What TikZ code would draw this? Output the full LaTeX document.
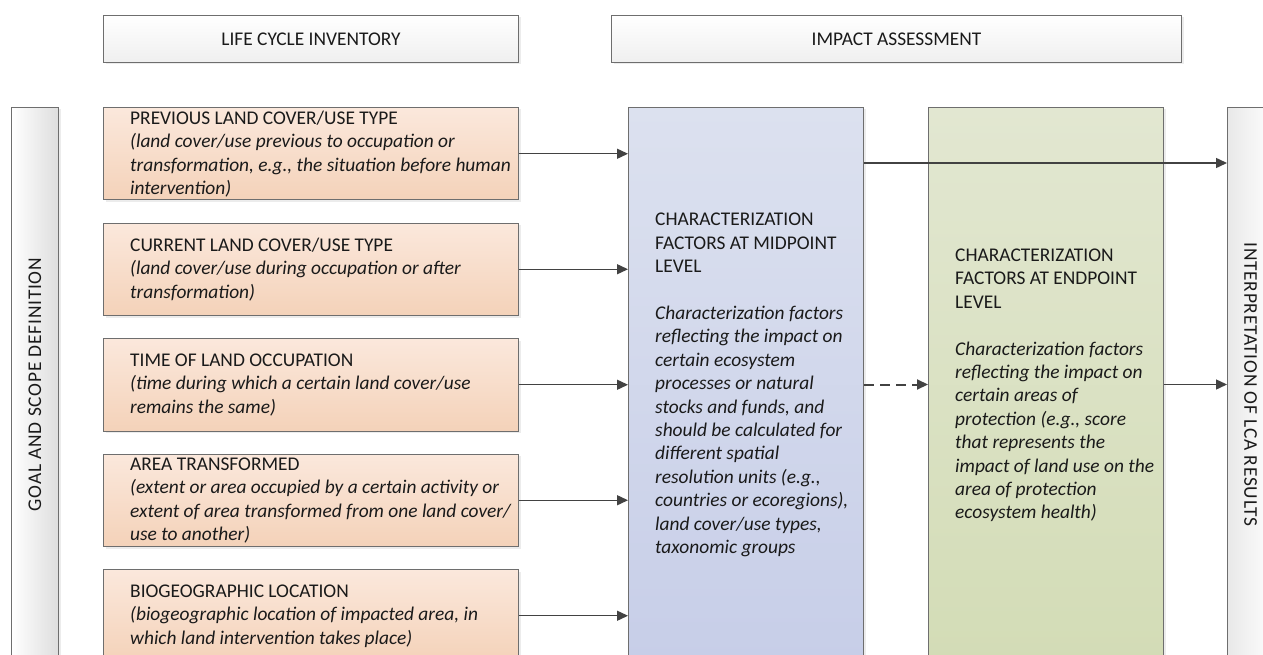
\documentclass[tikz,border=0pt]{standalone}
\usepackage{fontspec}
\setmainfont{Carlito}
\usetikzlibrary{arrows.meta,shadows}
\definecolor{bordc}{HTML}{6E6E6E}
\definecolor{arrc}{HTML}{424242}
\definecolor{txt}{HTML}{1A1A1A}
\definecolor{orT}{HTML}{FBE8DC}
\definecolor{orB}{HTML}{F4D2B9}
\definecolor{blT}{HTML}{DCE1EF}
\definecolor{blB}{HTML}{C7CEE8}
\definecolor{grT}{HTML}{E2E7D1}
\definecolor{grB}{HTML}{D3DCB6}
\definecolor{hdB}{HTML}{EFEFEF}
\begin{document}
\begin{tikzpicture}[x=1pt,y=-1pt,
  every node/.style={font=\fontsize{19.4pt}{23.4pt}\selectfont, text=txt},
  boxbase/.style={draw=bordc, line width=1pt, inner sep=0pt, anchor=north west,
     drop shadow={opacity=0.15, shadow xshift=2pt, shadow yshift=-2pt}},
  headbox/.style={boxbase, top color=white, bottom color=hdB, minimum height=47pt, anchor=north west},
  orbox/.style={boxbase, top color=orT, bottom color=orB, minimum width=415pt, minimum height=92.5pt},
  blbox/.style={boxbase, top color=blT, bottom color=blB, minimum width=235pt, minimum height=554pt},
  grbox/.style={boxbase, top color=grT, bottom color=grB, minimum width=235pt, minimum height=554pt},
  sidebox/.style={boxbase, minimum width=47pt, minimum height=554pt},
  lbl/.style={anchor=west, align=left, inner sep=0pt},
  arr/.style={draw=arrc, line width=1.4pt, -{Triangle[length=11pt,width=10pt]}},
  darr/.style={arr, line width=2pt, dash pattern=on 10pt off 6pt}
]
\useasboundingbox (0,0) rectangle (1263,655);
\fill[white] (0,0) rectangle (1263,655);
\clip (0,0) rectangle (1263,655);

% headers
\node[headbox, minimum width=415pt] (lci) at (103,15) {};
\node (lcit) at (lci.center) {LIFE CYCLE INVENTORY};
\node[headbox, minimum width=570pt] (ia) at (611,15) {};
\node (iat) at (ia.center) {IMPACT ASSESSMENT};

% side boxes
\node[sidebox, left color=white, right color=black!13] (goal) at (11,107) {};
\node[rotate=90] (goalt) at (goal.center) {\addfontfeatures{LetterSpace=4}GOAL AND SCOPE DEFINITION};
\node[sidebox, left color=black!9, right color=white] (interp) at (1227,107) {};
\node[rotate=-90] (interpt) at ([xshift=-0.5pt]interp.center) {\addfontfeatures{LetterSpace=4}INTERPRETATION OF LCA RESULTS};

% inventory boxes
\node[orbox] (b1) at (103,107) {};
\node[orbox] (b2) at (103,222.5) {};
\node[orbox] (b3) at (103,338) {};
\node[orbox] (b4) at (103,453.5) {};
\node[orbox] (b5) at (103,569) {};

\node[lbl] (t1) at (130,154) {PREVIOUS LAND COVER/USE TYPE\\
\textit{(land cover/use previous to occupation or}\\
\textit{transformation, e.g., the situation before human}\\
\textit{intervention)}};
\node[lbl] (t2) at (130,269.5) {CURRENT LAND COVER/USE TYPE\\
\textit{(land cover/use during occupation or after}\\
\textit{transformation)}};
\node[lbl] (t3) at (130,385) {TIME OF LAND OCCUPATION\\
\textit{(time during which a certain land cover/use}\\
\textit{remains the same)}};
\node[lbl] (t4) at (130,500.5) {AREA TRANSFORMED\\
\textit{(extent or area occupied by a certain activity or}\\
\textit{extent of area transformed from one land cover/}\\
\textit{use to another)}};
\node[lbl] (t5) at (130,616) {BIOGEOGRAPHIC LOCATION\\
\textit{(biogeographic location of impacted area, in}\\
\textit{which land intervention takes place)}};

% impact boxes
\node[blbox] (mid) at (628,107) {};
\node[lbl] (midt) at (655,385) {CHARACTERIZATION\\
FACTORS AT MIDPOINT\\
LEVEL\\[23.4pt]
\textit{Characterization factors}\\
\textit{reflecting the impact on}\\
\textit{certain ecosystem}\\
\textit{processes or natural}\\
\textit{stocks and funds, and}\\
\textit{should be calculated for}\\
\textit{different spatial}\\
\textit{resolution units (e.g.,}\\
\textit{countries or ecoregions),}\\
\textit{land cover/use types,}\\
\textit{taxonomic groups}};

\node[grbox] (endp) at (928,107) {};
\node[lbl] (endt) at (955,385.5) {CHARACTERIZATION\\
FACTORS AT ENDPOINT\\
LEVEL\\[23.4pt]
\textit{Characterization factors}\\
\textit{reflecting the impact on}\\
\textit{certain areas of}\\
\textit{protection (e.g., score}\\
\textit{that represents the}\\
\textit{impact of land use on the}\\
\textit{area of protection}\\
\textit{ecosystem health)}};

% connectors
\foreach \b in {b1,b2,b3,b4,b5}
  \draw[arr] (\b.east) -- (\b.east -| mid.west);
\draw[arr] ([yshift=-56pt]mid.north east) -- ([yshift=-56pt]interp.north west);
\draw[darr] (mid.east) -- (endp.west);
\draw[arr] (endp.east) -- (interp.west);
\end{tikzpicture}
\end{document}
